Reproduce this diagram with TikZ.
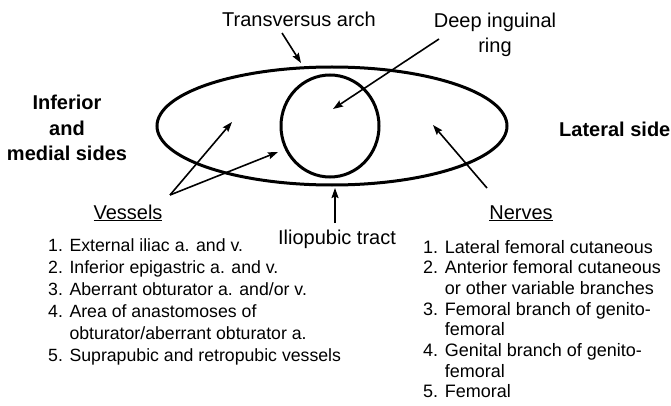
\documentclass[tikz,border=0pt]{standalone}
\usepackage{fontspec}
\setmainfont{Liberation Sans}
\usetikzlibrary{arrows.meta,shapes.geometric}
\begin{document}
\begin{tikzpicture}[x=1pt,y=-1pt,
  lbl/.style={inner sep=0pt, font=\fontsize{20}{25}\selectfont},
  blbl/.style={inner sep=0pt, font=\fontsize{20}{25.5}\selectfont\bfseries},
  lst/.style={inner sep=0pt, anchor=base west},
  arr/.style={line width=1.6pt, -{Stealth[length=10pt,width=7pt,inset=1.5pt]}},
  ringshape/.style={draw, ellipse, line width=3pt, inner sep=0pt}]
\useasboundingbox (0,0) rectangle (671,406);

% ellipses
\node[ringshape, minimum width=350pt, minimum height=118pt] (outer) at (332,126) {};
\node[ringshape, minimum width=98pt, minimum height=102pt] (inner) at (330,126) {};

% labels
\node[lbl, anchor=base] (trans) at (299,27) {Transversus arch};
\node[lbl, anchor=base] (deep) at (495,28) {\begin{tabular}[t]{@{}c@{}}Deep inguinal\\ring\end{tabular}};
\node[lbl, anchor=base] (ilio) at (337,244) {Iliopubic tract};
\node[blbl, anchor=base] (inf) at (67,110) {\begin{tabular}[t]{@{}c@{}}Inferior\\and\\medial sides\end{tabular}};
\node[blbl, anchor=base west] (lat) at (559,137) {Lateral side};
\node[lbl, anchor=base] (ves) at (128,219) {\underline{Vessels}};
\node[lbl, anchor=base] (ner) at (521,219) {\underline{Nerves}};

% lists
\node[lst, font=\fontsize{17.7}{22}\selectfont] (vlist) at (48,251) {\begin{tabular}[t]{@{}l@{}}
1. External iliac a. and v.\\
2. Inferior epigastric a. and v.\\
3. Aberrant obturator a. and/or v.\\
4. Area of anastomoses of\\
\hphantom{4. }obturator/aberrant obturator a.\\
5. Suprapubic and retropubic vessels\end{tabular}};
\node[lst, font=\fontsize{18}{20.7}\selectfont] (nlist) at (423,253) {\begin{tabular}[t]{@{}l@{}}
1. Lateral femoral cutaneous\\
2. Anterior femoral cutaneous\\
\hphantom{2. }or other variable branches\\
3. Femoral branch of genito-\\
\hphantom{3. }femoral\\
4. Genital branch of genito-\\
\hphantom{4. }femoral\\
5. Femoral\end{tabular}};

% arrow end points
\coordinate (transT) at (282,33);
\coordinate (transH) at (301,63);
\coordinate (deepT) at (439,39);
\coordinate (deepH) at (333,109);
\coordinate (vesT) at (170,195);
\coordinate (vesH1) at (232,122);
\coordinate (vesH2) at (278,152);
\coordinate (ilioT) at (335,223);
\coordinate (ilioH) at (335,188);
\coordinate (nerT) at (487,188);
\coordinate (nerH) at (433,125);

\draw[arr] (transT) -- (transH);
\draw[arr] (deepT) -- (deepH);
\draw[arr] (vesT) -- (vesH1);
\draw[arr] (vesT) -- (vesH2);
\draw[arr] (ilioT) -- (ilioH);
\draw[arr] (nerT) -- (nerH);
\end{tikzpicture}
\end{document}
